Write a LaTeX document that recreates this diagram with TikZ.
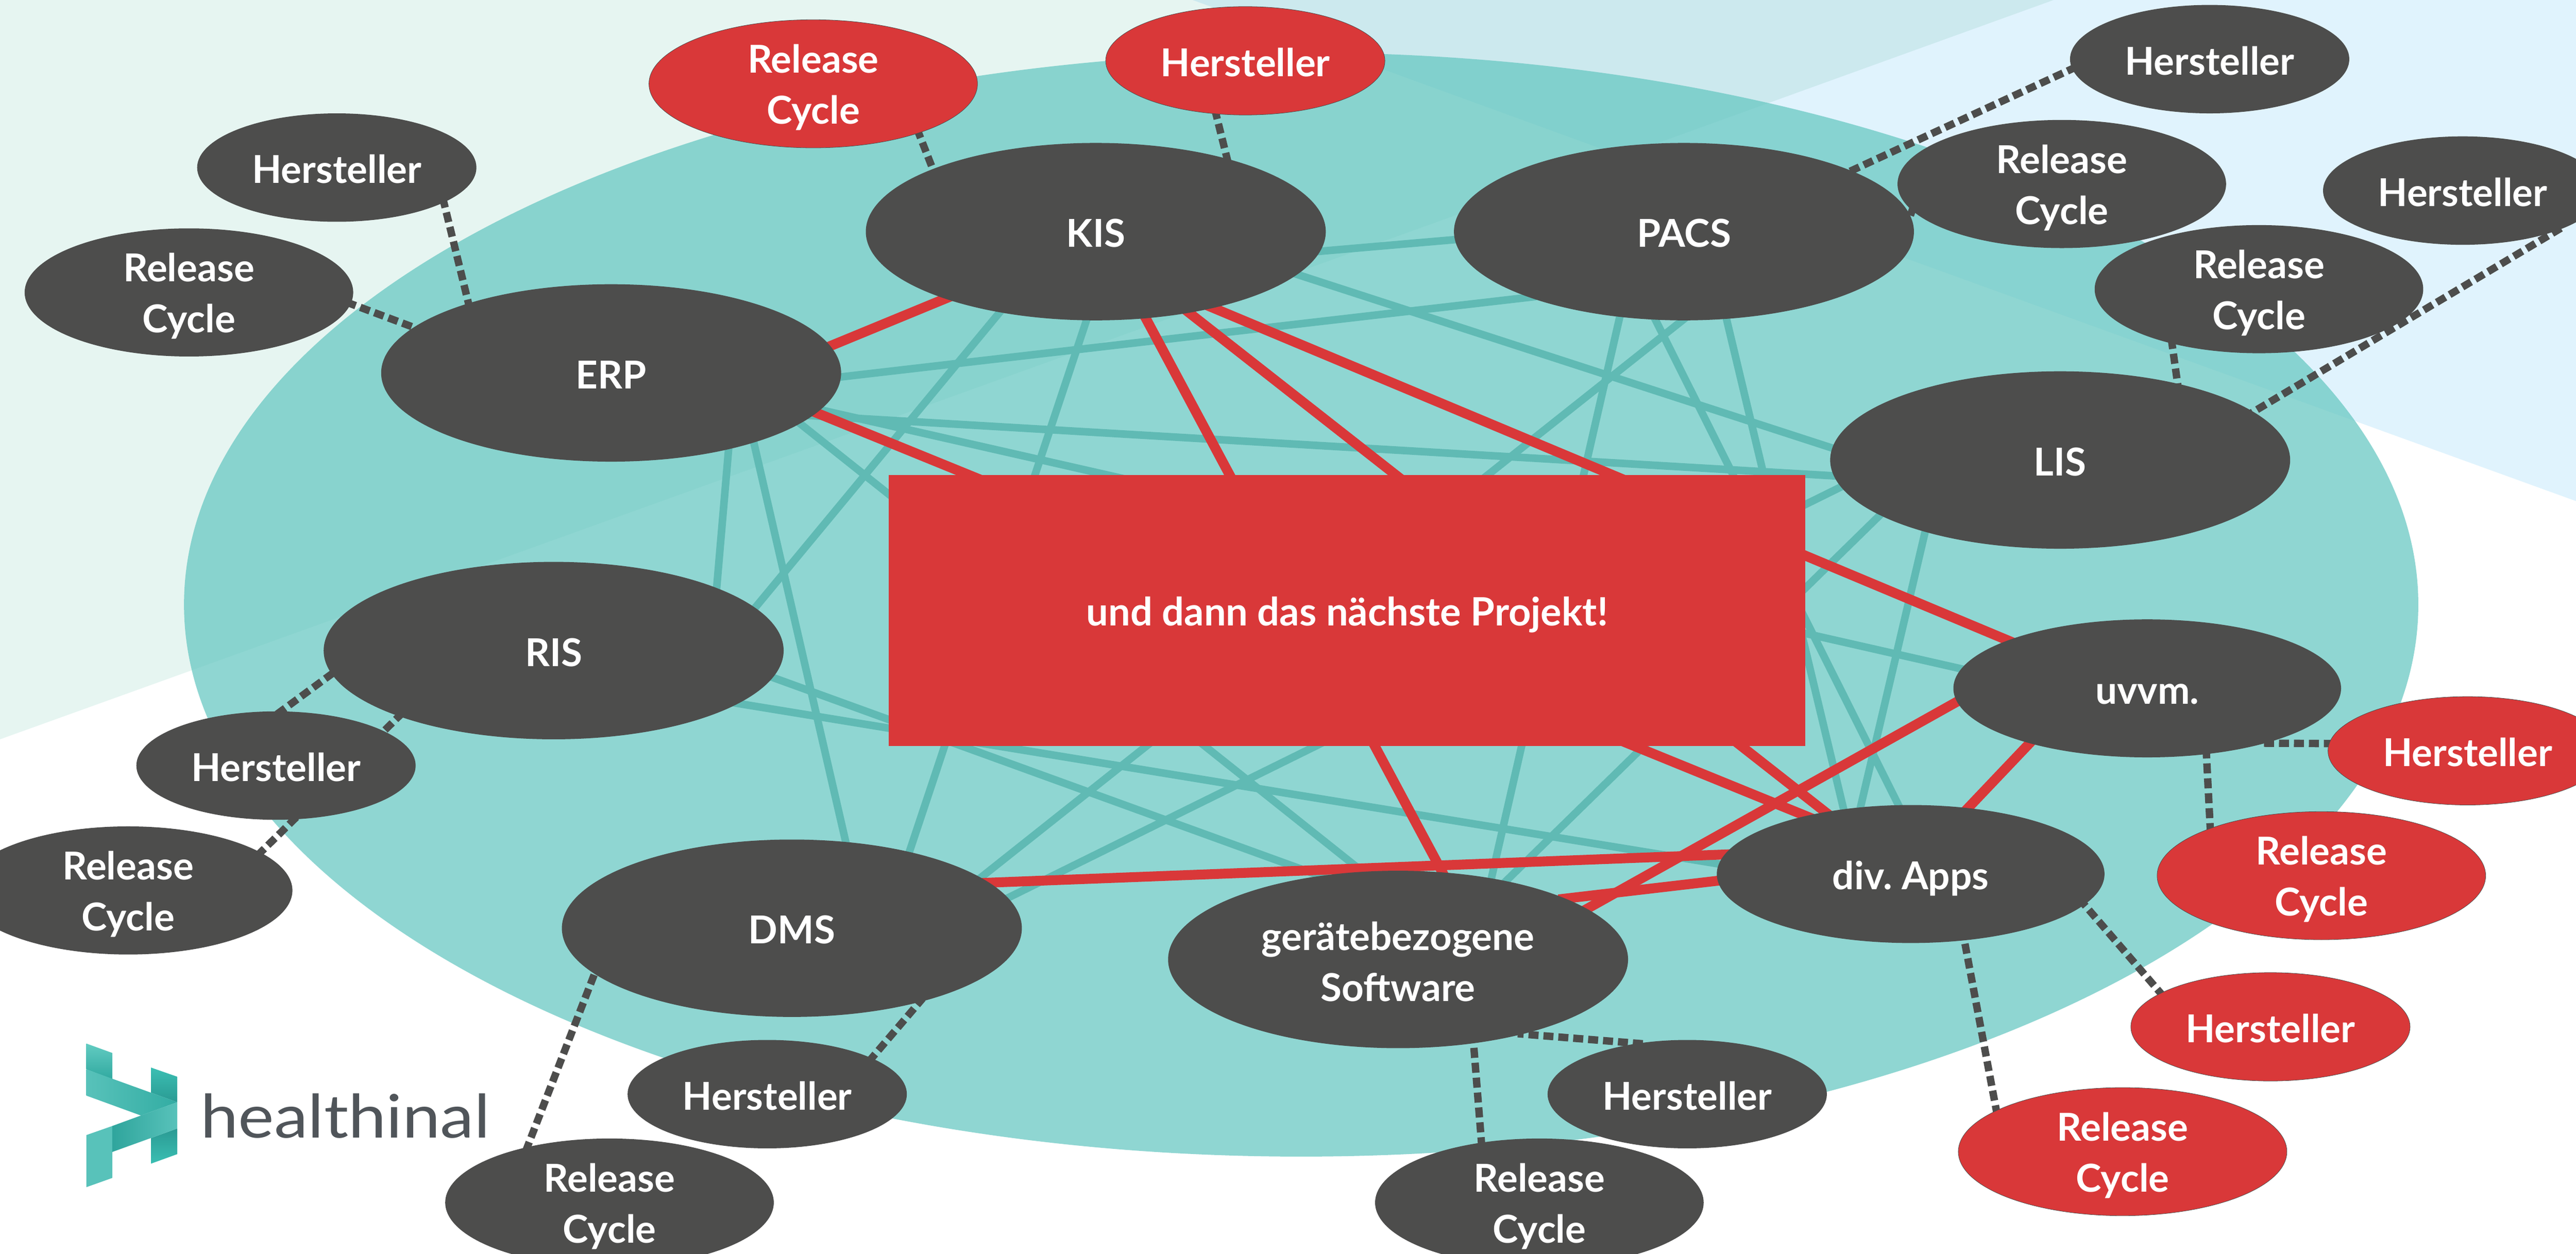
\documentclass[tikz,border=0pt]{standalone}
\usepackage{fontspec}
\setmainfont{Lato}
\newfontfamily\brandfont[FakeStretch=1.13]{Lato}
\frenchspacing
\usetikzlibrary{backgrounds,shapes.geometric}
\definecolor{dark}{HTML}{4D4D4C}
\definecolor{hred}{HTML}{D93839}
\definecolor{link}{HTML}{60BAB4}
\definecolor{mint}{HTML}{E6F5F1}
\definecolor{sky}{HTML}{E0F3FD}
\definecolor{both}{HTML}{CCE9EE}
\definecolor{pool}{RGB}{101,199,193}
\definecolor{logotxt}{HTML}{50555A}
\definecolor{lgA}{HTML}{58C2BA}
\definecolor{lgB}{HTML}{3BBFB3}
\definecolor{lgC}{HTML}{2A9A93}
\newcommand{\topstrut}{\rule{0pt}{37pt}}
\newcommand{\tallstrut}{\rule{0pt}{35.5pt}}
\newcommand{\gerstrut}{\rule{0pt}{38.5pt}}
\newcommand{\botstrut}{\rule[-10pt]{0pt}{10pt}}
\tikzset{
  blob/.style={ellipse,inner sep=0pt,outer sep=0pt,fill=dark,text=white,align=center,
    font=\fontsize{33.3}{44}\selectfont\bfseries,
    execute at begin node=\topstrut,execute at end node=\botstrut},
  bigblob/.style={blob,minimum width=14cm,minimum height=5.4cm},
  midblob/.style={blob,minimum width=11.8cm,minimum height=4.2cm},
  hblob/.style={blob,minimum width=8.5cm,minimum height=3.3cm},
  rblob/.style={blob,inner ysep=-6pt,minimum width=10cm,minimum height=3.9cm},
  hot/.style={fill=hred,draw=dark,line width=0.35pt},
  teallink/.style={draw=link,line width=0.23cm,shorten <=-6pt,shorten >=-6pt},
  redlink/.style={draw=hred,line width=0.3cm,shorten <=-6pt,shorten >=-6pt},
  dotlink/.style={draw=dark,line width=0.225cm,dash pattern=on 0.305cm off 0.15cm,shorten <=-4pt,shorten >=-4pt},
}
\begin{document}
\begin{tikzpicture}[x=0.05cm,y=-0.05cm]
\useasboundingbox (0,0) rectangle (1568,763.1);
% large nodes
\node[bigblob] (erp) at (372,227) {ERP};
\node[bigblob] (kis) at (667,141) {KIS};
\node[bigblob] (pacs) at (1025,141) {PACS};
\node[bigblob] (lis) at (1254,280) {LIS};
\node[midblob] (uvvm) at (1307,419) {uvvm.};
\node[midblob] (apps) at (1163,532) {div. Apps};
\node[bigblob] (ger) at (851,584) {\gerstrut gerätebezogene\\Software};
\node[bigblob] (dms) at (482,565) {DMS};
\node[bigblob] (ris) at (337,396) {RIS};
% satellites
\node[hblob] (herp) at (205,102) {Hersteller};
\node[rblob] (rerp) at (115,178) {\tallstrut Release\\Cycle};
\node[rblob,hot] (rkis) at (495,51) {\tallstrut Release\\Cycle};
\node[hblob,hot] (hkis) at (758,37) {Hersteller};
\node[hblob] (hpacs) at (1345,36) {Hersteller};
\node[rblob] (rpacs) at (1255,112) {\tallstrut Release\\Cycle};
\node[hblob] (hlis) at (1499,116) {Hersteller};
\node[rblob] (rlis) at (1375,176) {\tallstrut Release\\Cycle};
\node[hblob,hot] (huvvm) at (1502,457) {Hersteller};
\node[rblob,hot] (ruvvm) at (1413,533) {\tallstrut Release\\Cycle};
\node[hblob,hot] (happs) at (1382,625) {Hersteller};
\node[rblob,hot] (rapps) at (1292,701) {\tallstrut Release\\Cycle};
\node[hblob] (hger) at (1027,666) {Hersteller};
\node[rblob] (rger) at (937,732) {\tallstrut Release\\Cycle};
\node[hblob] (hdms) at (467,666) {Hersteller};
\node[rblob] (rdms) at (371,732) {\tallstrut Release\\Cycle};
\node[hblob] (hris) at (168,466) {Hersteller};
\node[rblob] (rris) at (78,542) {\tallstrut Release\\Cycle};
% centre box
\node[rectangle,fill=hred,text=white,inner sep=0pt,minimum width=27.9cm,minimum height=8.25cm,
  font=\fontsize{33.8}{44}\selectfont\bfseries,
  execute at begin node=\topstrut,execute at end node=\botstrut] (next) at (820,371.5) {und dann das nächste Projekt!};
% logo
\shade[top color=lgB!80!white,bottom color=lgC!60!lgB] (52.6,635.2) -- (68.3,640.9) -- (68.3,656.8) -- (52.6,650.9) -- cycle;
\shade[top color=lgB,bottom color=lgC] (91.9,649.8) -- (107.9,655.4) -- (107.9,670.9) -- (91.9,665.1) -- cycle;
\shade[top color=lgC,bottom color=lgB] (91.9,692.7) -- (107.9,686.9) -- (107.9,702.5) -- (91.9,708.3) -- cycle;
\shade[left color=lgA,right color=lgC!50!lgB] (52.6,650.9) -- (107.9,670.9) -- (85.8,679) -- (52.6,666.9) -- cycle;
\fill[lgA] (52.6,690.9) -- (68.3,685.4) -- (68.3,717) -- (52.6,722.6) -- cycle;
\shade[left color=lgC!70!lgB,right color=lgA] (68.3,685.4) -- (107.9,670.9) -- (107.9,686.9) -- (68.3,701.2) -- cycle;
\node[anchor=base west,inner sep=0pt,text=logotxt,font=\fontsize{52}{60}\selectfont\brandfont] (brand) at (122,692.7) {healthinal};
\begin{scope}[on background layer]
  \fill[white] (0,0) rectangle (1568,763.1);
  \fill[mint] (0,0) -- (1250,0) -- (0,450) -- cycle;
  \fill[sky] (726,0) -- (1568,0) -- (1568,305) -- cycle;
  \fill[both] (726,0) -- (1250,0) -- (987,95) -- cycle;
  \fill[pool,fill opacity=0.72] (792,368) ellipse [x radius=680,y radius=336];
  % teal network
  \draw[teallink] (erp.-1.6) -- (pacs.203);
  \draw[teallink] (kis.-5.8) -- (pacs.182.5);
  \draw[teallink] (erp.-12.9) -- (lis.184.2);
  \draw[teallink] (erp.-10.7) -- (uvvm.174.8);
  \draw[teallink] (kis.-12.4) -- (lis.177.9);
  \draw[teallink] (kis.-96.5) -- (dms.33.1);
  \draw[teallink] (kis.220.2) -- (ris.12.3);
  \draw[teallink] (erp.-15.3) -- (ger.112.1);
  \draw[teallink] (erp.-26.6) -- (dms.58.1);
  \draw[teallink] (erp.-33.1) -- (ris.21.4);
  \draw[teallink] (ris.-7.5) -- (ger.133.4);
  \draw[teallink] (ris.-16.5) -- (apps.177.5);
  \draw[teallink] (pacs.-91) -- (dms.15.8);
  \draw[teallink] (pacs.233.8) -- (ger.41.3);
  \draw[teallink] (pacs.-64.7) -- (apps.136.5);
  \draw[teallink] (pacs.252.2) -- (apps.100.8);
  \draw[teallink] (lis.187) -- (dms.8.2);
  \draw[teallink] (lis.197.3) -- (ger.36);
  \draw[teallink] (lis.208.8) -- (apps.127.3);
  % red network
  \draw[redlink] (erp.7.3) -- (kis.204.2);
  \draw[redlink] (erp.-11.5) -- (apps.151.5);
  \draw[redlink] (kis.-60.9) -- (ger.63);
  \draw[redlink] (kis.-41.6) -- (apps.144.7);
  \draw[redlink] (kis.-33.9) -- (uvvm.161.1);
  \draw[redlink] (uvvm.184.5) -- (ger.15.1);
  \draw[redlink] (uvvm.205.6) -- (apps.49.6);
  \draw[redlink] (dms.13) -- (apps.174.5);
  \draw[redlink] (ger.20.1) -- (apps.182.4);
  % dotted satellites
  \draw[dotlink] (herp.-18) -- (erp.154.5);
  \draw[dotlink] (rerp.-4.7) -- (erp.167.3);
  \draw[dotlink] (rkis.-25.1) -- (kis.159.6);
  \draw[dotlink] (hkis.241.4) -- (kis.29.7);
  \draw[dotlink] (hpacs.184.8) -- (pacs.20.3);
  \draw[dotlink] (rpacs.190.6) -- (pacs.4.6);
  \draw[dotlink] (rlis.212.6) -- (lis.33.7);
  \draw[dotlink] (hlis.-23) -- (lis.14);
  \draw[dotlink] (huvvm.177.3) -- (uvvm.-25.6);
  \draw[dotlink] (ruvvm.157.6) -- (uvvm.-48.8);
  \draw[dotlink] (happs.163.4) -- (apps.-10.8);
  \draw[dotlink] (rapps.162) -- (apps.-51.3);
  \draw[dotlink] (hger.134) -- (ger.-31.3);
  \draw[dotlink] (rger.134.2) -- (ger.-48);
  \draw[dotlink] (hdms.19.3) -- (dms.-30.6);
  \draw[dotlink] (rdms.146.6) -- (dms.193.8);
  \draw[dotlink] (hris.85) -- (ris.186);
  \draw[dotlink] (rris.16.3) -- (ris.203.4);
\end{scope}
\end{tikzpicture}
\end{document}
